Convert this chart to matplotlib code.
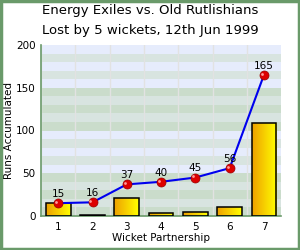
import numpy as np
import matplotlib.pyplot as plt
from matplotlib.patches import Rectangle
from matplotlib.colors import LinearSegmentedColormap

# partnership data
wickets = [1, 2, 3, 4, 5, 6, 7]
partnership = [15, 1, 21, 3, 5, 11, 109]
cumulative = [15, 16, 37, 40, 45, 56, 165]
yticks = [0, 50, 100, 150, 200]

fig = plt.figure(figsize=(3, 2.5), dpi=100)
ax = fig.add_axes([0.137, 0.136, 0.8, 0.684])

# background bands
for i in range(20):
    lo = i * 10
    block = i // 5
    if (i % 5) % 2 == 1:
        c = '#d8e4e0'
    elif block % 2 == 0:
        c = '#cadccb'
    else:
        c = '#e6ecfc'
    ax.axhspan(lo, lo + 10, color=c, zorder=0, lw=0)
for i in range(7):
    ax.axvline(i + 0.5, color='#e2e2e2', lw=1, zorder=0.5)

# bars with orange->yellow gradient
grad = np.linspace(0, 1, 64).reshape(1, -1)
cmap = LinearSegmentedColormap.from_list('oy', ['#eea000', '#ffff00'])
w = 0.72
for x, v in zip(wickets, partnership):
    rect = Rectangle((x - w / 2, 0), w, v, facecolor='none', edgecolor='black', lw=1.1, zorder=3)
    ax.add_patch(rect)
    im = ax.imshow(grad, extent=[x - w / 2, x + w / 2, 0, v], aspect='auto', cmap=cmap, zorder=2)
    im.set_clip_path(rect)

ax.plot(wickets, cumulative, color='#0000ee', lw=1.5, zorder=4)
ax.plot(wickets, cumulative, 'o', ms=6.5, color='#dd0000', mec='#990000', mew=0.5, zorder=5)
ax.plot([x - 0.06 for x in wickets], [c + 1.5 for c in cumulative], 'o', ms=2, color='#ff9999', mew=0, zorder=6)
for x, c in zip(wickets, cumulative):
    ax.text(x, c + 5, str(c), ha='center', va='bottom', fontsize=7.5, zorder=6)

ax.set_xlim(0.5, 7.5)
ax.set_ylim(0, 200)
ax.set_xticks(wickets)
ax.set_yticks(yticks)
ax.tick_params(length=0, labelsize=7.5, pad=4)
for s in ['top', 'right']:
    ax.spines[s].set_visible(False)
for s in ['left', 'bottom']:
    ax.spines[s].set_color('#6a9a6a')
    ax.spines[s].set_linewidth(1.2)
ax.set_xlabel('Wicket Partnership', fontsize=7.5, labelpad=1)
ax.set_ylabel('Runs Accumulated', fontsize=7.5, labelpad=1)

fig.text(0.5, 0.958, 'Energy Exiles vs. Old Rutlishians', ha='center', va='center', fontsize=9.5)
fig.text(0.5, 0.878, 'Lost by 5 wickets, 12th Jun 1999', ha='center', va='center', fontsize=9.5)

fig.patches.append(Rectangle((0.004, 0.005), 0.992, 0.99, transform=fig.transFigure,
                             fill=False, edgecolor='#6a9a6a', lw=2.5))

fig.savefig('out.png', dpi=100)
